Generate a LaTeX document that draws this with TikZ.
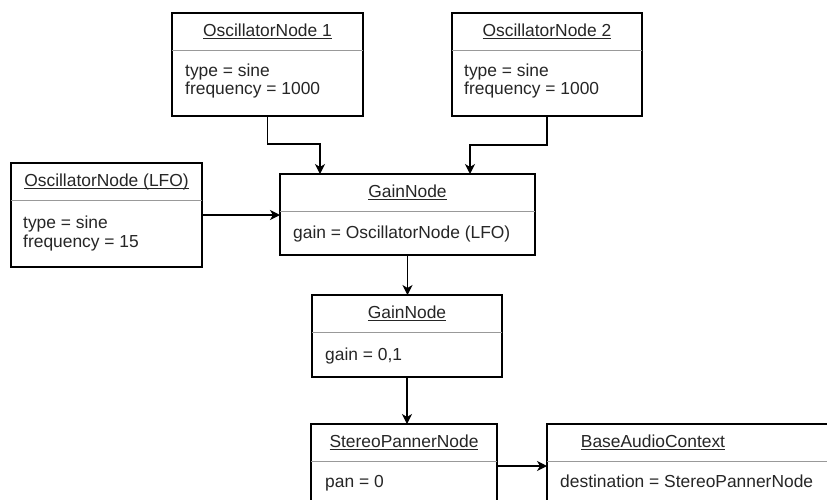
\documentclass[tikz,border=0pt]{standalone}
\usepackage{fontspec}
\setmainfont{Liberation Sans}
\usetikzlibrary{arrows.meta}

% underline at a fixed depth, independent of descenders
\newcommand\ulbar[1]{\setbox0\hbox{#1}\rlap{\rule[-3pt]{\wd0}{0.9pt}}\box0}

\tikzset{
  umlframe/.style={draw=black, line width=1.2pt, fill=white, inner sep=0pt, outer sep=0pt, rectangle},
  sepline/.style={draw=black!40, line width=0.9pt},
  ttl/.style={inner sep=0pt, text=black!85, font=\fontsize{17.4}{20}\selectfont},
  body/.style={inner sep=0pt, text=black!85, font=\fontsize{17.4}{20}\selectfont, anchor=base west},
  conn/.style={draw=black, line width=1.2pt, -{Stealth[length=10pt,width=10pt,inset=3pt]}},
}

% box with a title compartment: name, x, y, width, height, title
\newcommand\umlbox[6]{%
  \node[umlframe, minimum width=#4pt, minimum height=#5pt, anchor=north west] (#1) at (#2,#3) {};
  \draw[sepline] ([yshift=-37pt]#1.north west) -- ([yshift=-37pt]#1.north east);
  \node[ttl, anchor=base] (#1-title) at ([yshift=-23pt]#1.north) {\ulbar{#6}};
}

\begin{document}
\begin{tikzpicture}[x=1pt, y=-1pt]
  \useasboundingbox (0,0) rectangle (827,499);
  \fill[white] (0,0) rectangle (827,499);
  \clip (0,0) rectangle (827,499);

  % sources
  \umlbox{osc1}{172}{13}{191}{103}{OscillatorNode 1}
  \node[body] (osc1-a) at ([xshift=13pt, yshift=-63pt]osc1.north west) {type = sine};
  \node[body] (osc1-b) at ([xshift=13pt, yshift=-81pt]osc1.north west) {frequency = 1000};

  \umlbox{osc2}{452}{13}{190}{103}{OscillatorNode 2}
  \node[body] (osc2-a) at ([xshift=12pt, yshift=-63pt]osc2.north west) {type = sine};
  \node[body] (osc2-b) at ([xshift=12pt, yshift=-81pt]osc2.north west) {frequency = 1000};

  \umlbox{lfo}{11}{163}{191}{104}{OscillatorNode (LFO)}
  \node[body] (lfo-a) at ([xshift=12pt, yshift=-65pt]lfo.north west) {type = sine};
  \node[body] (lfo-b) at ([xshift=12pt, yshift=-84pt]lfo.north west) {frequency = 15};

  % gain stages
  \umlbox{gain1}{280}{174}{255}{81}{GainNode}
  \node[body] (gain1-a) at ([xshift=13pt, yshift=-64pt]gain1.north west) {gain = OscillatorNode (LFO)};

  \umlbox{gain2}{312}{295}{190}{82}{GainNode}
  \node[body] (gain2-a) at ([xshift=13pt, yshift=-65pt]gain2.north west) {gain = 0,1};

  % output
  \umlbox{pan}{311}{424}{186}{100}{StereoPannerNode}
  \node[body] (pan-a) at ([xshift=14pt, yshift=-63pt]pan.north west) {pan = 0};

  \node[umlframe, minimum width=300pt, minimum height=100pt, anchor=north west] (ctx) at (547,424) {};
  \draw[sepline] ([yshift=-37pt]ctx.north west) -- ([yshift=-37pt]ctx.north east);
  \node[ttl, anchor=base] (ctx-title) at (653,447) {\ulbar{BaseAudioContext}};
  \node[body] (ctx-a) at ([xshift=13pt, yshift=-63pt]ctx.north west) {destination = StereoPannerNode};

  % connections
  \draw[conn] (osc1.south) -- ++(0,28) -| ([xshift=40pt]gain1.north west);
  \draw[conn] (osc2.south) -- ++(0,29) -| ([xshift=-65pt]gain1.north east);
  \draw[conn] (lfo.east) -- (lfo.east -| gain1.west);
  \draw[conn] (gain1.south) -- (gain1.south |- gain2.north);
  \draw[conn] (gain2.south) -- (gain2.south |- pan.north);
  \draw[conn] ([yshift=-42pt]pan.north east) -- ([yshift=-42pt]ctx.north west);
\end{tikzpicture}
\end{document}
